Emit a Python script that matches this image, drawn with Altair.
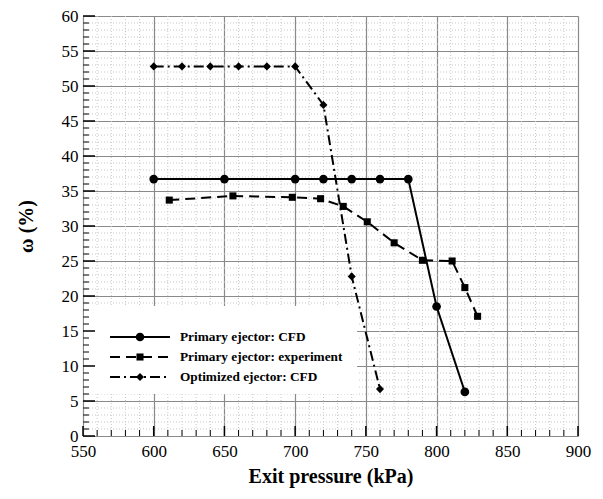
import altair as alt
import pandas as pd

# ---------------- data ----------------
series_names = ["Primary ejector: CFD", "Primary ejector: experiment", "Optimized ejector: CFD"]

cfd_x = [600, 650, 700, 720, 740, 760, 780, 800, 820]
cfd_y = [36.7, 36.7, 36.7, 36.7, 36.7, 36.7, 36.7, 18.5, 6.3]

exp_x = [611, 656, 698, 718, 734, 751, 770, 790, 811, 820, 829]
exp_y = [33.7, 34.3, 34.1, 33.9, 32.8, 30.6, 27.6, 25.1, 25.0, 21.2, 17.1]

opt_x = [600, 620, 640, 660, 680, 700, 720, 740, 760]
opt_y = [52.8, 52.8, 52.8, 52.8, 52.8, 52.8, 47.3, 22.8, 6.7]

x_major = list(range(550, 901, 50))
x_minor = [v for v in range(550, 901, 10) if v % 50 != 0]
y_major = list(range(0, 61, 5))
y_minor = [v for v in range(0, 61) if v % 5 != 0]

# ---------------- styling ----------------
W, H = 495, 420
FONT = "'Liberation Serif', 'Times New Roman', 'DejaVu Serif', serif"
shapes = ["circle", "square", "diamond"]
sizes = [75, 50, 65]
dashes = [[1, 0], [10, 6], [10, 4, 2, 4]]
widths = [2.0, 2.0, 2.0]

x_enc = alt.X("x:Q", scale=alt.Scale(domain=[550, 900], nice=False, zero=False),
              axis=alt.Axis(values=x_major, grid=True, gridColor="#8a8a8a", gridWidth=1.2,
                            ticks=False, domain=False, labelFont=FONT, labelFontSize=17,
                            labelColor="black", labelPadding=7, labelFlush=False,
                            title="Exit pressure (kPa)", titleFont=FONT, titleFontSize=20,
                            titleFontWeight="bold", titleColor="black", titlePadding=7))
y_enc = alt.Y("y:Q", scale=alt.Scale(domain=[0, 60], nice=False),
              axis=alt.Axis(values=y_major, grid=True, gridColor="#8a8a8a", gridWidth=1.2,
                            ticks=False, domain=False, labelFont=FONT, labelFontSize=17,
                            labelColor="black", labelPadding=5, labelFlush=False,
                            title="ω (%)", titleFont=FONT, titleFontSize=20,
                            titleFontWeight="bold", titleColor="black", titlePadding=25))

layers = []

# minor dotted grid
gx = pd.DataFrame({"x": x_minor})
gy = pd.DataFrame({"y": y_minor})
layers.append(alt.Chart(gx).mark_rule(color="#c8c8c8", strokeWidth=1, strokeDash=[1, 2])
              .encode(x=x_enc, y=alt.value(0), y2=alt.value(H)))
layers.append(alt.Chart(gy).mark_rule(color="#c8c8c8", strokeWidth=1, strokeDash=[1, 2])
              .encode(y=y_enc, x=alt.value(0), x2=alt.value(W)))

# legend background
one = pd.DataFrame({"a": [0]})
layers.append(alt.Chart(one).mark_rect(color="white")
              .encode(x=alt.value(1), x2=alt.value(274), y=alt.value(290), y2=alt.value(378)))

# inward ticks
layers.append(alt.Chart(pd.DataFrame({"y": y_major})).mark_rule(color="black", strokeWidth=1.5)
              .encode(y=y_enc, x=alt.value(0), x2=alt.value(12)))
layers.append(alt.Chart(gy).mark_rule(color="black", strokeWidth=1)
              .encode(y=y_enc, x=alt.value(0), x2=alt.value(6)))
layers.append(alt.Chart(pd.DataFrame({"x": x_major})).mark_rule(color="black", strokeWidth=1.5)
              .encode(x=x_enc, y=alt.value(H), y2=alt.value(H - 10)))
layers.append(alt.Chart(gx).mark_rule(color="black", strokeWidth=1)
              .encode(x=x_enc, y=alt.value(H), y2=alt.value(H - 6)))

# data series
for i, (xs, ys) in enumerate([(cfd_x, cfd_y), (exp_x, exp_y), (opt_x, opt_y)]):
    df = pd.DataFrame({"x": xs, "y": ys, "series": series_names[i]})
    layers.append(alt.Chart(df).mark_line(color="black", strokeWidth=widths[i], strokeDash=dashes[i])
                  .encode(x=x_enc, y=y_enc))
    layers.append(alt.Chart(df).mark_point(shape=shapes[i], size=sizes[i], filled=True,
                                           color="black", opacity=1)
                  .encode(x=x_enc, y=y_enc))

# legend entries
leg_y = [321, 341, 361]
for i, name in enumerate(series_names):
    layers.append(alt.Chart(one).mark_rule(color="black", strokeWidth=widths[i], strokeDash=dashes[i])
                  .encode(x=alt.value(27), x2=alt.value(87), y=alt.value(leg_y[i])))
    layers.append(alt.Chart(one).mark_point(shape=shapes[i], size=sizes[i], filled=True,
                                            color="black", opacity=1)
                  .encode(x=alt.value(57), y=alt.value(leg_y[i])))
    layers.append(alt.Chart(one).mark_text(align="left", baseline="middle", font=FONT,
                                           fontWeight="bold", fontSize=13.3, color="black",
                                           text=name)
                  .encode(x=alt.value(97), y=alt.value(leg_y[i])))

chart = (alt.layer(*layers)
         .properties(width=W, height=H, autosize=alt.AutoSizeParams(type="none"),
                     padding={"left": 75, "top": 8, "right": 16, "bottom": 55})
         .configure_view(stroke="black", strokeWidth=2)
         .configure(background="white"))

chart.save("out.html", embed_options={"renderer": "svg", "actions": False})
